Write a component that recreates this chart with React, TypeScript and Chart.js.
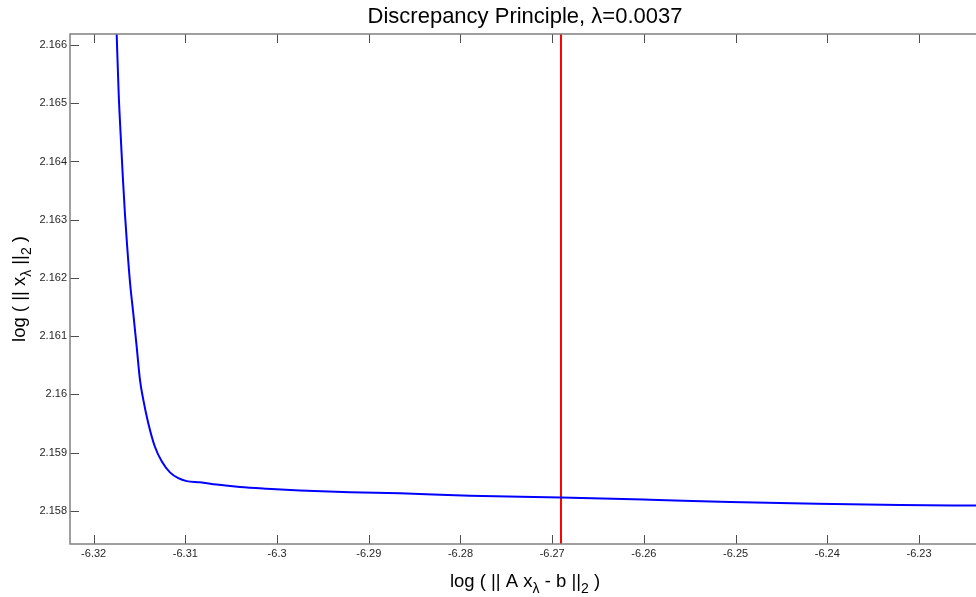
import React, { useEffect, useRef } from 'react';
import { Chart, registerables } from 'chart.js';

Chart.register(...registerables);

// ---- data ----
const curveX = [
  -6.31751, -6.31749, -6.31742, -6.31727, -6.31706, -6.31684, -6.31659, -6.31634,
  -6.31604, -6.31568, -6.31531, -6.31495, -6.31459, -6.31405, -6.31332, -6.31258,
  -6.31168, -6.31077, -6.30986, -6.30841, -6.30659, -6.30405, -6.30113, -6.2975,
  -6.29205, -6.2866, -6.27896, -6.26904, -6.25933, -6.25061, -6.24112, -6.23207, -6.2233,
];
const curveY = [
  2.1663, 2.16619, 2.16585, 2.16516, 2.16447, 2.16379, 2.1631, 2.16253,
  2.16193, 2.16139, 2.16082, 2.16025, 2.15991, 2.15951, 2.1591, 2.15885,
  2.15866, 2.15856, 2.15851, 2.15849, 2.15845, 2.15841, 2.15838, 2.15835,
  2.15832, 2.1583, 2.15826, 2.15823, 2.15819, 2.15815, 2.15812, 2.1581, 2.15809,
];
const markerX = -6.26904;

const xRange = [-6.32258, -6.22335];
const yRange = [2.15743, 2.16619];

const xTicks = [-6.32, -6.31, -6.3, -6.29, -6.28, -6.27, -6.26, -6.25, -6.24, -6.23];
const xTickLabels = ['-6.32', '-6.31', '-6.3', '-6.29', '-6.28', '-6.27', '-6.26', '-6.25', '-6.24', '-6.23'];
const yTicks = [2.158, 2.159, 2.16, 2.161, 2.162, 2.163, 2.164, 2.165, 2.166];
const yTickLabels = ['2.158', '2.159', '2.16', '2.161', '2.162', '2.163', '2.164', '2.165', '2.166'];

const titleText = 'Discrepancy Principle, \u03bb=0.0037';
// [text, isSubscript]
const xLabelParts: [string, boolean][] = [['log ( || A x', false], ['\u03bb', true], [' - b ||', false], ['2', true], [' )', false]];
const yLabelParts: [string, boolean][] = [['log ( || x', false], ['\u03bb', true], [' ||', false], ['2', true], [' )', false]];

const FONT = '"Liberation Sans", Arial, Helvetica, sans-serif';
const LABEL_SIZE = 18.5;
const SUB_SIZE = 14;

function drawRich(ctx: CanvasRenderingContext2D, parts: [string, boolean][], cx: number, baseline: number) {
  let total = 0;
  const widths = parts.map(([t, sub]) => {
    ctx.font = `${sub ? SUB_SIZE : LABEL_SIZE}px ${FONT}`;
    const w = ctx.measureText(t).width;
    total += w;
    return w;
  });
  let x = cx - total / 2;
  ctx.textAlign = 'left';
  ctx.textBaseline = 'alphabetic';
  parts.forEach(([t, sub], i) => {
    ctx.font = `${sub ? SUB_SIZE : LABEL_SIZE}px ${FONT}`;
    ctx.fillText(t, x, baseline + (sub ? 6 : 0));
    x += widths[i];
  });
}

const matlabAxes = {
  id: 'matlabAxes',
  afterDatasetsDraw(chart: any) {
    const { ctx, chartArea: a, scales } = chart;
    const xs = scales.x;
    const ys = scales.y;
    ctx.save();
    ctx.strokeStyle = '#4d4d4d';
    ctx.lineWidth = 1;
    ctx.beginPath();
    xTicks.forEach((v) => {
      const px = Math.round(xs.getPixelForValue(v)) + 0.5;
      ctx.moveTo(px, a.bottom);
      ctx.lineTo(px, a.bottom - 9);
      ctx.moveTo(px, a.top);
      ctx.lineTo(px, a.top + 9);
    });
    yTicks.forEach((v) => {
      const py = Math.round(ys.getPixelForValue(v)) + 0.5;
      ctx.moveTo(a.left, py);
      ctx.lineTo(a.left + 9, py);
    });
    ctx.stroke();
    ctx.strokeStyle = '#808080';
    ctx.lineWidth = 1.5;
    ctx.strokeRect(a.left, a.top, a.right - a.left, a.bottom - a.top);
    ctx.restore();
  },
  afterDraw(chart: any) {
    const { ctx, chartArea: a } = chart;
    ctx.save();
    ctx.fillStyle = '#000';
    drawRich(ctx, xLabelParts, (a.left + a.right) / 2, 587);
    ctx.translate(25, (a.top + a.bottom) / 2);
    ctx.rotate(-Math.PI / 2);
    drawRich(ctx, yLabelParts, 0, 0);
    ctx.restore();
  },
};

export default function App() {
  const ref = useRef<HTMLCanvasElement | null>(null);
  useEffect(() => {
    if (!ref.current) return;
    const chart = new Chart(ref.current, {
      type: 'line',
      data: {
        datasets: [
          {
            data: curveX.map((x, i) => ({ x, y: curveY[i] })),
            borderColor: '#0000ff',
            borderWidth: 2,
            pointRadius: 0,
            cubicInterpolationMode: 'monotone',
            fill: false,
          },
          {
            data: [
              { x: markerX, y: yRange[0] - 0.001 },
              { x: markerX, y: yRange[1] + 0.001 },
            ],
            borderColor: '#ff0000',
            borderWidth: 2,
            pointRadius: 0,
            fill: false,
          },
        ],
      },
      options: {
        animation: false,
        responsive: false,
        devicePixelRatio: 1,
        layout: { padding: { left: 0, right: 10, top: 0, bottom: 0 } },
        plugins: {
          legend: { display: false },
          tooltip: { enabled: false },
          title: {
            display: true,
            text: titleText,
            fullSize: false,
            color: '#000',
            font: { family: FONT, size: 22, weight: 'normal' },
            padding: { top: 4, bottom: 3.6 },
          },
        },
        scales: {
          x: {
            type: 'linear',
            min: xRange[0],
            max: xRange[1],
            grid: { display: false, drawTicks: false },
            border: { display: false },
            afterBuildTicks: (s: any) => {
              s.ticks = xTicks.map((v) => ({ value: v }));
            },
            afterFit: (s: any) => {
              s.height = 53;
            },
            ticks: {
              autoSkip: false,
              maxRotation: 0,
              padding: 3,
              color: '#262626',
              font: { family: FONT, size: 11 },
              callback: (v: any) => {
                const i = xTicks.findIndex((t) => Math.abs(t - Number(v)) < 1e-9);
                return i >= 0 ? xTickLabels[i] : '';
              },
            },
          },
          y: {
            type: 'linear',
            min: yRange[0],
            max: yRange[1],
            grid: { display: false, drawTicks: false },
            border: { display: false },
            afterBuildTicks: (s: any) => {
              s.ticks = yTicks.map((v) => ({ value: v }));
            },
            afterFit: (s: any) => {
              s.width = 70;
            },
            ticks: {
              autoSkip: false,
              padding: 3,
              color: '#262626',
              font: { family: FONT, size: 11 },
              callback: (v: any) => {
                const i = yTicks.findIndex((t) => Math.abs(t - Number(v)) < 1e-9);
                return i >= 0 ? yTickLabels[i] : '';
              },
            },
          },
        },
      },
      plugins: [matlabAxes],
    } as any);
    return () => chart.destroy();
  }, []);

  return (
    <div style={{ position: 'fixed', left: 0, top: 0, width: 976, height: 597, overflow: 'hidden', background: '#fff' }}>
      <canvas ref={ref} width={990} height={597} style={{ display: 'block' }} />
    </div>
  );
}
